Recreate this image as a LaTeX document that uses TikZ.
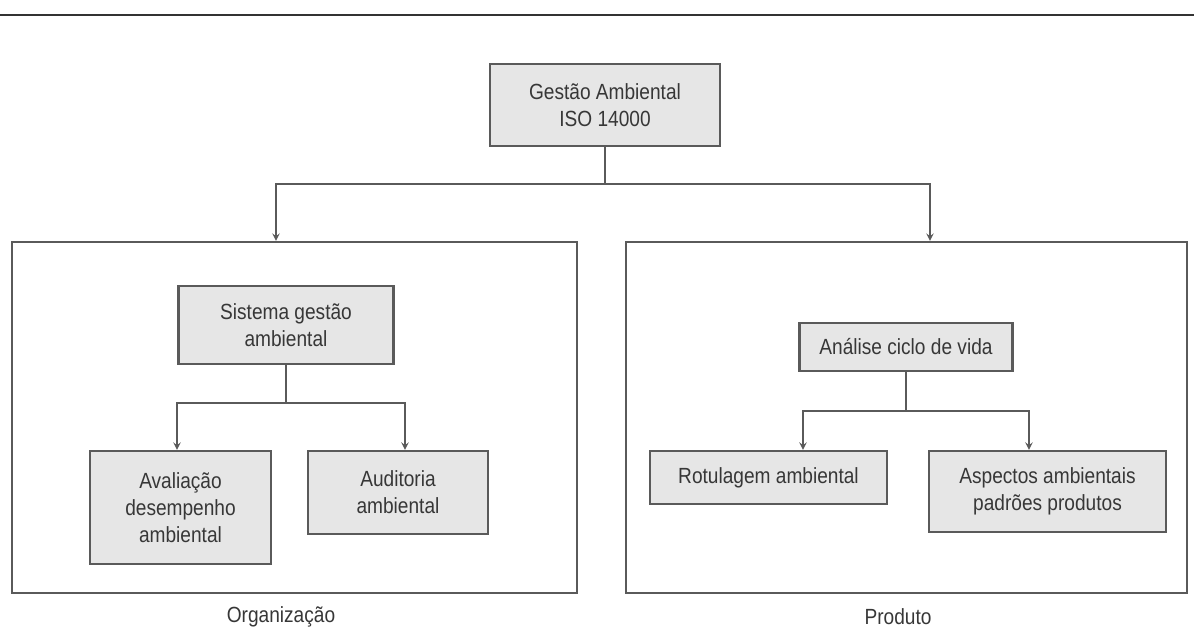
\documentclass[tikz,border=0pt]{standalone}
\usepackage{fontspec}
\setmainfont{Liberation Sans}[FakeStretch=0.87]
\usepackage{tikz}
\usetikzlibrary{arrows,positioning}
\usepackage{xcolor}
\definecolor{isogray}{RGB}{90,90,90}
\definecolor{isofill}{RGB}{230,230,230}
\definecolor{isotext}{RGB}{55,55,55}
\tikzstyle{arrow} = [line width=0.9pt,->,>=stealth,color=isogray]
\tikzstyle{topic} = [rectangle, align=center, text centered, draw=isogray, fill=isofill, line width=1.2pt, text=isotext, font=\fontsize{12.5}{15.5}\selectfont]
\tikzstyle{group} = [rectangle, draw=isogray, line width=1.2pt]
\tikzstyle{caption} = [text=isotext, font=\fontsize{12.5}{15.5}\selectfont]

\begin{document}
\begin{tikzpicture}[x=0.02cm, y=-0.02cm]
\useasboundingbox (0,0) rectangle (1194,642);
% rule on top
\draw[line width=1.3pt, color=black!80] (0,15) -- (1194,15);

% groups
\node[group, minimum width=11.3cm, minimum height=7.02cm] (org) at (294.5,417.5) {};
\node[group, minimum width=11.22cm, minimum height=7.02cm] (prod) at (906.5,417.5) {};
\node[caption] (orglabel) at (281,617) {Organização};
\node[caption] (prodlabel) at (898,617) {Produto};

% boxes
\node[topic, minimum width=4.6cm, minimum height=1.64cm] (iso) at (605,105) {Gestão Ambiental\\ISO 14000};
\node[topic, minimum width=4.3cm, minimum height=1.56cm] (sga) at (286,325) {Sistema gestão\\ambiental};
\node[topic, minimum width=3.62cm, minimum height=2.26cm] (aval) at (180.5,507.5) {Avaliação\\desempenho\\ambiental};
\node[topic, minimum width=3.6cm, minimum height=1.66cm] (aud) at (398,492.5) {Auditoria\\ambiental};
\node[topic, minimum width=4.26cm, minimum height=0.96cm] (acv) at (906,347) {Análise ciclo de vida};
\node[topic, minimum width=4.74cm, minimum height=1.06cm] (rot) at (768.5,477.5) {Rotulagem ambiental};
\node[topic, minimum width=4.74cm, minimum height=1.62cm] (asp) at (1047.5,491.5) {Aspectos ambientais\\padrões produtos};

% branch points
\coordinate (busL) at (276,184);
\coordinate (busR) at (930,184);
\coordinate (busA) at (177,403);
\coordinate (busB) at (405,403);
\coordinate (busC) at (803,411);
\coordinate (busD) at (1029,411);

% connections
\draw[arrow] (iso.south) |- (busL) -- (busL |- org.north);
\draw[arrow] (iso.south) |- (busR) -- (busR |- prod.north);
\draw[arrow] (sga.south) |- (busA) -- (busA |- aval.north);
\draw[arrow] (sga.south) |- (busB) -- (busB |- aud.north);
\draw[arrow] (acv.south) |- (busC) -- (busC |- rot.north);
\draw[arrow] (acv.south) |- (busD) -- (busD |- asp.north);
\end{tikzpicture}
\end{document}
